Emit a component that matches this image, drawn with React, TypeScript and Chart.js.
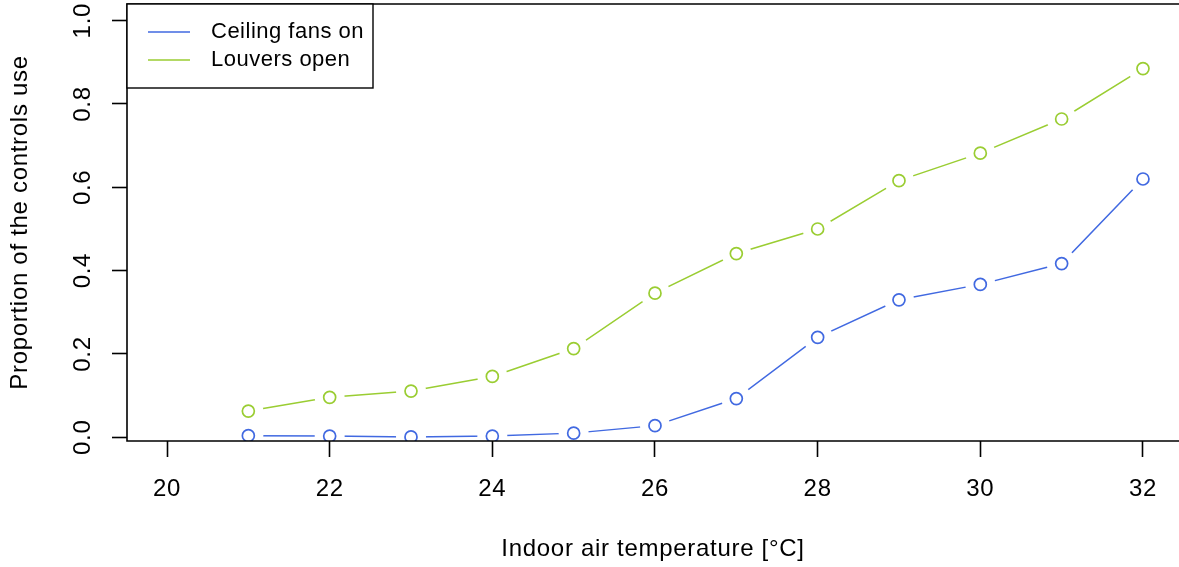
import { useEffect, useRef } from "react";
import { Chart, registerables } from "chart.js";

Chart.register(...registerables);

const temperatures = [21, 22, 23, 24, 25, 26, 27, 28, 29, 30, 31, 32];
const ceilingFansOn = [0.004, 0.003, 0.001, 0.003, 0.01, 0.028, 0.093, 0.24, 0.33, 0.367, 0.417, 0.62];
const louversOpen = [0.063, 0.096, 0.111, 0.146, 0.213, 0.346, 0.441, 0.5, 0.616, 0.682, 0.764, 0.885];
const seriesLabels = ["Ceiling fans on", "Louvers open"];
const seriesColors = ["#4169E1", "#9ACD32"];
const xTicks = [20, 22, 24, 26, 28, 30, 32];
const xTickLabels = ["20", "22", "24", "26", "28", "30", "32"];
const yTicks = [0, 0.2, 0.4, 0.6, 0.8, 1.0];
const yTickLabels = ["0.0", "0.2", "0.4", "0.6", "0.8", "1.0"];
const xTitle = "Indoor air temperature [°C]";
const yTitle = "Proportion of the controls use";

const FONT = "'Liberation Sans', Arial, Helvetica, sans-serif";
const FS = 24;
const LEGEND_FS = 22;

export default function App() {
  const ref = useRef<HTMLCanvasElement | null>(null);

  useEffect(() => {
    document.body.style.margin = "0";
    const canvas = ref.current;
    if (!canvas) return;
    const series = [ceilingFansOn, louversOpen];
    const pts = (vals: number[]) => temperatures.map((t, i) => ({ x: t, y: vals[i] }));

    const datasets: any[] = [
      ...series.map((vals, i) => ({
        label: seriesLabels[i],
        data: pts(vals),
        borderColor: seriesColors[i],
        borderWidth: 1.5,
        pointRadius: 0,
        fill: false,
        tension: 0,
        order: 3,
      })),
      ...series.map((vals, i) => ({
        label: "_gap" + i,
        data: pts(vals),
        showLine: false,
        pointRadius: 15,
        pointBackgroundColor: "#ffffff",
        pointBorderColor: "#ffffff",
        pointBorderWidth: 0,
        clip: 0,
        order: 2,
      })),
      ...series.map((vals, i) => ({
        label: "_pt" + i,
        data: pts(vals),
        showLine: false,
        pointRadius: 6,
        pointBackgroundColor: "rgba(0,0,0,0)",
        pointBorderColor: seriesColors[i],
        pointBorderWidth: 1.7,
        order: 1,
      })),
    ];

    const spacing = {
      id: "spacing",
      beforeDraw(chart: any) {
        (chart.ctx as any).letterSpacing = "0.7px";
      },
    };

    const overlay = {
      id: "overlay",
      afterDatasetsDraw(chart: any) {
        const { ctx, chartArea } = chart;
        const { left, right, top, bottom } = chartArea;
        ctx.save();
        // frame
        ctx.strokeStyle = "#000";
        ctx.lineWidth = 1.6;
        ctx.beginPath();
        ctx.moveTo(right + 5, top);
        ctx.lineTo(left, top);
        ctx.lineTo(left, bottom);
        ctx.lineTo(right + 5, bottom);
        ctx.stroke();

        // y tick labels (rotated)
        const yScale = chart.scales.y;
        ctx.fillStyle = "#000";
        ctx.font = `${FS}px ${FONT}`;
        (ctx as any).letterSpacing = "0.7px";
        ctx.textAlign = "center";
        ctx.textBaseline = "alphabetic";
        yTicks.forEach((v, i) => {
          const py = yScale.getPixelForValue(v);
          ctx.save();
          ctx.translate(left - 37, py);
          ctx.rotate(-Math.PI / 2);
          ctx.fillText(yTickLabels[i], 0, 0);
          ctx.restore();
        });

        // legend
        const boxW = 246;
        const boxH = 84;
        ctx.fillStyle = "#fff";
        ctx.fillRect(left, top, boxW, boxH);
        ctx.strokeStyle = "#000";
        ctx.lineWidth = 1.4;
        ctx.strokeRect(left, top, boxW, boxH);
        ctx.font = `${LEGEND_FS}px ${FONT}`;
        (ctx as any).letterSpacing = "0.5px";
        ctx.textAlign = "left";
        ctx.textBaseline = "middle";
        seriesLabels.forEach((lab, i) => {
          const ly = top + 28 + i * 28;
          ctx.strokeStyle = seriesColors[i];
          ctx.lineWidth = 1.5;
          ctx.beginPath();
          ctx.moveTo(left + 21, ly);
          ctx.lineTo(left + 63, ly);
          ctx.stroke();
          ctx.fillStyle = "#000";
          ctx.fillText(lab, left + 84, ly);
        });
        ctx.restore();
      },
    };

    const chart = new Chart(canvas, {
      type: "line",
      data: { datasets },
      options: {
        animation: false,
        responsive: false,
        events: [],
        layout: { autoPadding: false, padding: { top: 4, left: 0, right: 0, bottom: 0 } },
        plugins: {
          legend: { display: false },
          tooltip: { enabled: false },
          title: { display: false },
        },
        scales: {
          x: {
            type: "linear",
            min: 19.508,
            max: 32.443,
            afterBuildTicks: (s: any) => {
              s.ticks = xTicks.map((v) => ({ value: v }));
            },
            afterFit: (s: any) => {
              s.height = 126;
            },
            grid: {
              drawOnChartArea: false,
              drawTicks: true,
              tickLength: 16,
              tickColor: "#000",
              tickWidth: 1.6,
            },
            border: { display: false },
            ticks: {
              color: "#000",
              font: { family: FONT, size: FS },
              padding: 18,
              maxRotation: 0,
              autoSkip: false,
              callback: (v: any) => {
                const idx = xTicks.indexOf(Number(v));
                return idx >= 0 ? xTickLabels[idx] : "";
              },
            },
            title: {
              display: true,
              text: xTitle,
              color: "#000",
              font: { family: FONT, size: FS },
              padding: { top: 0, bottom: 3.6 },
            },
          },
          y: {
            type: "linear",
            min: -0.0089,
            max: 1.04,
            afterBuildTicks: (s: any) => {
              s.ticks = yTicks.map((v) => ({ value: v }));
            },
            afterFit: (s: any) => {
              s.width = 127;
            },
            grid: {
              drawOnChartArea: false,
              drawTicks: true,
              tickLength: 15,
              tickColor: "#000",
              tickWidth: 1.6,
            },
            border: { display: false },
            ticks: { display: false },
            title: {
              display: true,
              text: yTitle,
              color: "#000",
              font: { family: FONT, size: FS },
              padding: { top: 5.6, bottom: 0 },
            },
          },
        },
      },
      plugins: [spacing, overlay],
    });

    return () => chart.destroy();
  }, []);

  return (
    <div style={{ width: 1179, height: 567, background: "#fff" }}>
      <canvas ref={ref} width={1179} height={567} style={{ display: "block" }} />
    </div>
  );
}
